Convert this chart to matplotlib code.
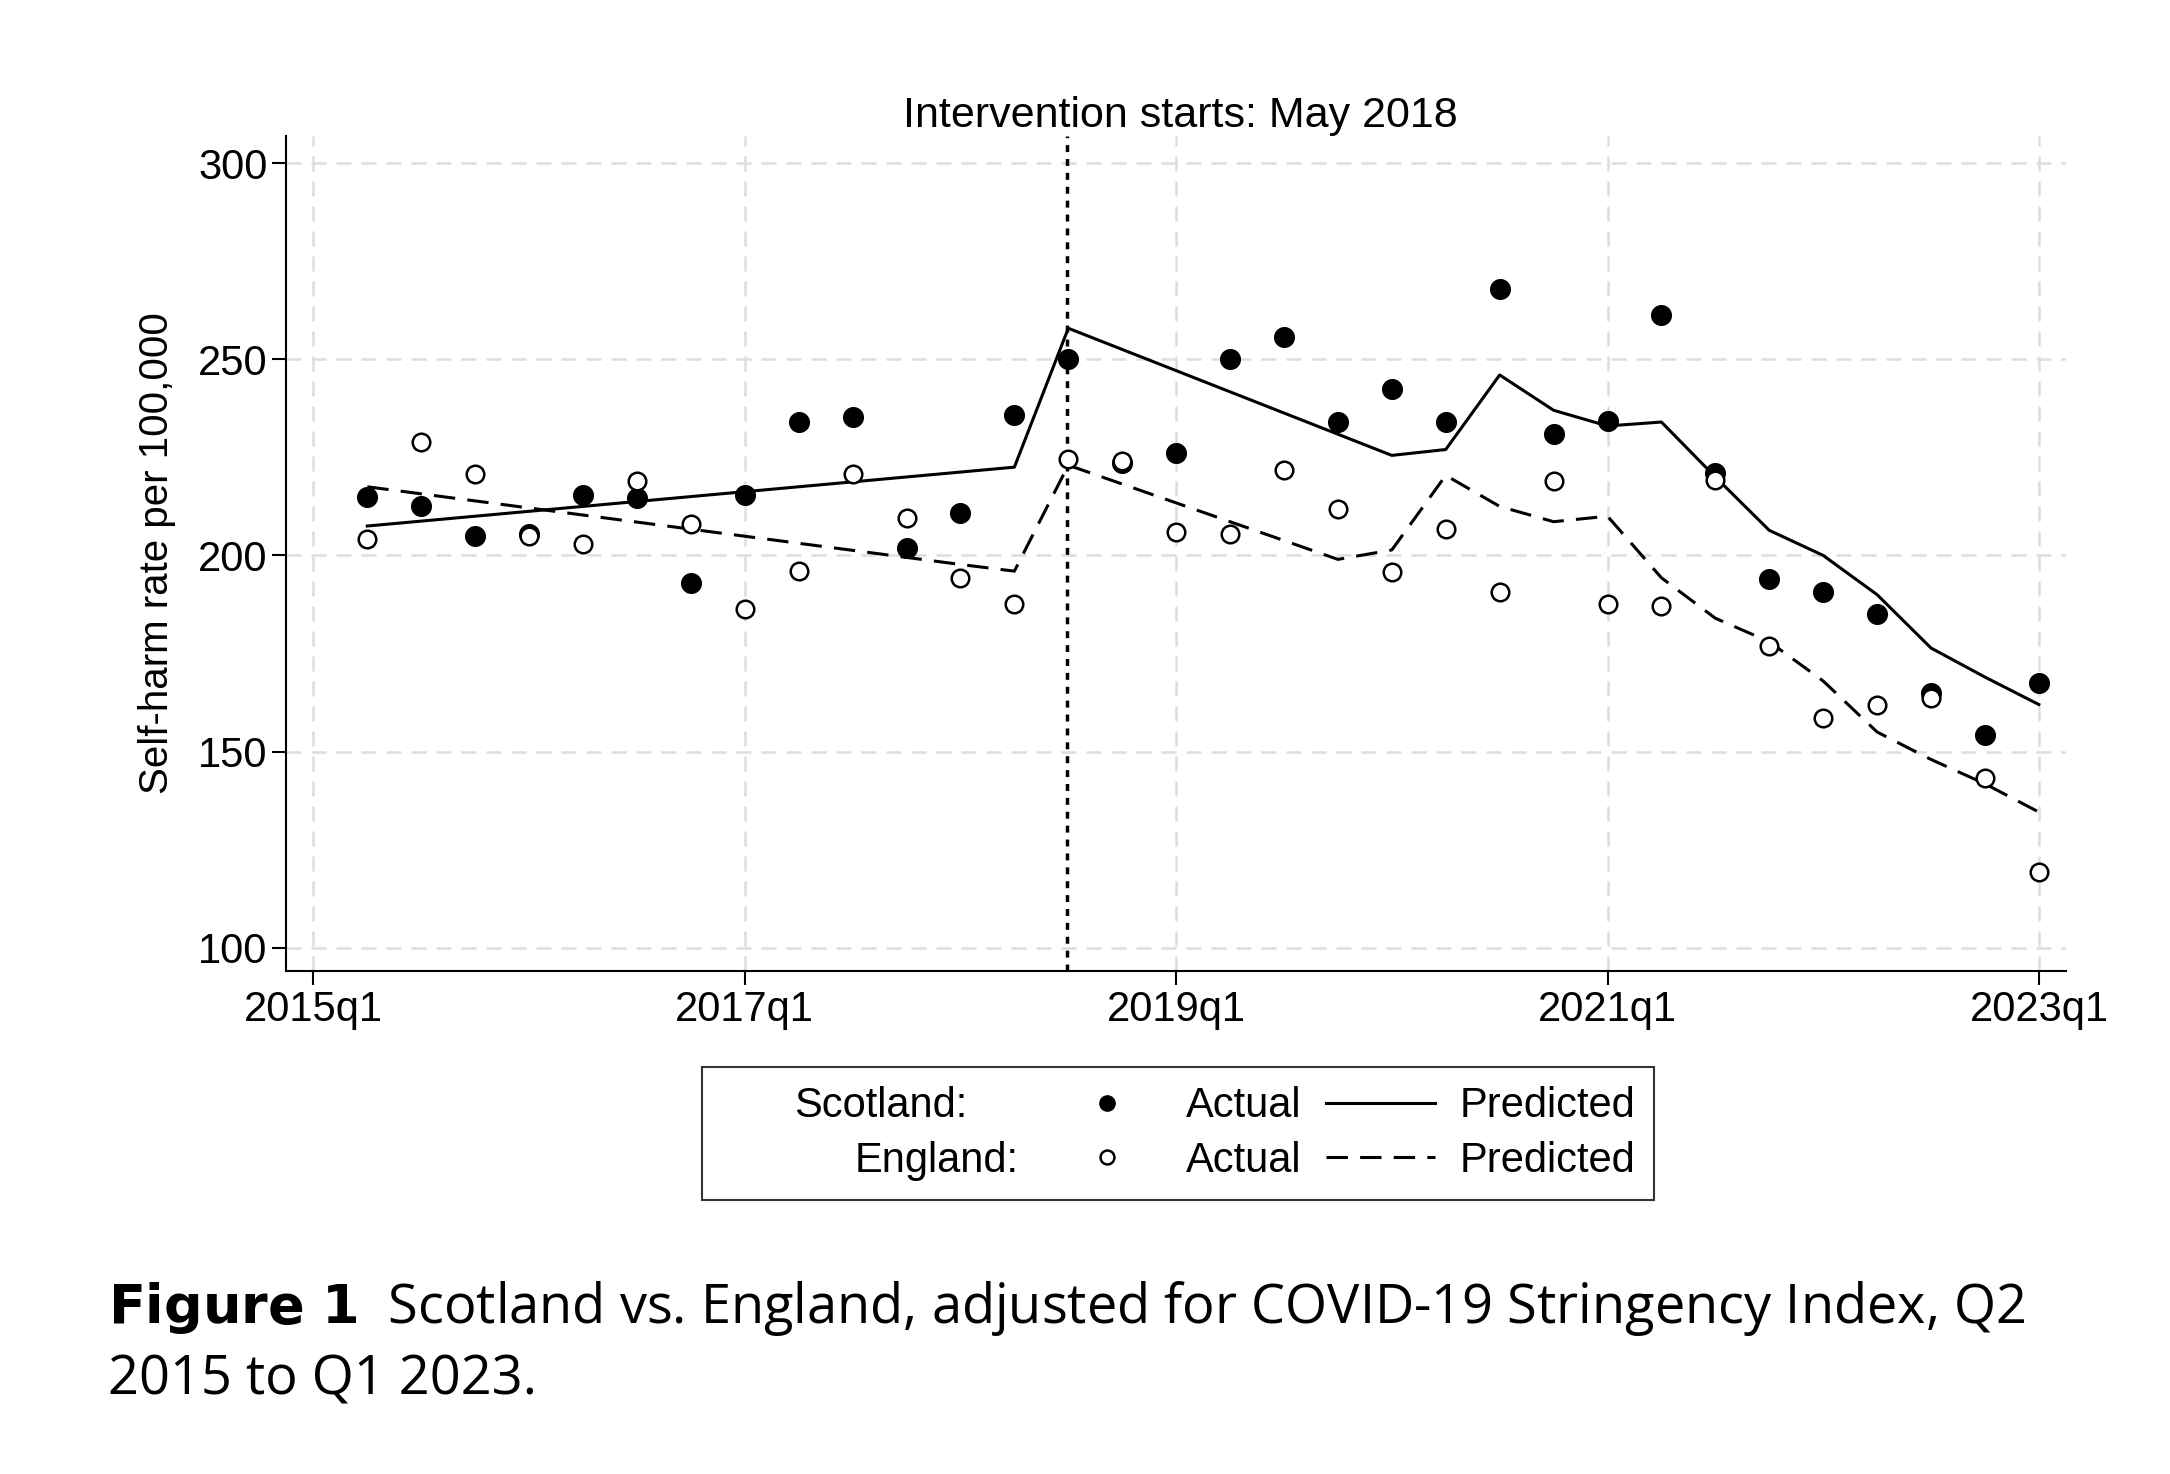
import matplotlib
matplotlib.use("Agg")
import matplotlib.pyplot as plt
from matplotlib.lines import Line2D

# quarter index: 0 = 2015q1
quarters = list(range(1, 33))
scot_actual = [215, 212.5, 205, 205.4, 215.4, 214.6, 193, 215.4, 234, 235.4, 202, 210.7,
               235.7, 250, 223.6, 226, 250, 255.7, 234, 242.5, 234, 268, 231, 234.3,
               261.4, 221, 194, 190.7, 185, 165, 154.3, 167.5]
eng_actual = [204.3, 229, 220.7, 205, 203, 219, 208, 186.4, 196, 220.7, 209.6, 194.3,
              187.5, 224.6, 224, 206, 205.4, 221.8, 211.8, 195.7, 206.8, 190.7, 219, 187.5,
              187, 219.3, 177, 158.6, 162, 163.6, 143.2, 119.3]
scot_pred = [207.5, 208.75, 210, 211.25, 212.5, 213.75, 215, 216.25, 217.5, 218.75, 220, 221.25,
             222.5, 257.9, 252.5, 247.1, 241.7, 236.3, 230.9, 225.5, 227, 246, 237, 233,
             234, 220, 206.4, 200, 190, 176.4, 169, 162]
eng_pred = [217.5, 215.7, 213.9, 212.1, 210.3, 208.5, 206.7, 204.9, 203.1, 201.3, 199.5, 197.7,
            196, 223, 218.2, 213.4, 208.6, 203.8, 199, 201.4, 220.4, 212.5, 208.6, 210,
            194.3, 184, 178, 168, 155, 148, 141.8, 134.6]
intervention = 13.97
xticks = [0, 8, 16, 24, 32]
xlabels = ["2015q1", "2017q1", "2019q1", "2021q1", "2023q1"]
yticks = [100, 150, 200, 250, 300]

plt.rcParams["font.family"] = ["Liberation Sans", "DejaVu Sans"]
fig = plt.figure(figsize=(21.7, 14.74), dpi=100)
ax = fig.add_axes([0.132, 0.341, 0.82, 0.567])

ax.plot(quarters, scot_pred, color="black", lw=2.2)
ax.plot(quarters, eng_pred, color="black", lw=2.2, dashes=(7, 4))
ax.scatter(quarters, scot_actual, s=200, color="black", zorder=3)
ax.scatter(quarters, eng_actual, s=160, facecolor="white", edgecolor="black", lw=1.8, zorder=3)
ax.axvline(intervention, color="black", lw=2.5, ls=(0, (2, 2)))

ax.set_xlim(-0.5, 32.5)
ax.set_ylim(94, 307)
ax.set_xticks(xticks)
ax.set_xticklabels(xlabels)
ax.set_yticks(yticks)
ax.tick_params(labelsize=30, length=10, width=1.5)
ax.grid(True, color="#dddddd", ls=(0, (6, 4)), lw=1.8)
for side in ["top", "right"]:
    ax.spines[side].set_visible(False)
ax.spines["left"].set_linewidth(1.5)
ax.spines["bottom"].set_linewidth(1.5)
ax.set_ylabel("Self-harm rate per 100,000", fontsize=29, labelpad=16)
ax.set_title("Intervention starts: May 2018", fontsize=31, x=(intervention + 2.6) / 33, pad=6)

blank = Line2D([], [], color="none")
handles = [blank, blank,
           Line2D([], [], ls="none", marker="o", color="black", ms=11),
           Line2D([], [], ls="none", marker="o", mfc="white", mec="black", ms=10, mew=1.8),
           Line2D([], [], color="black", lw=2.2),
           Line2D([], [], color="black", lw=2.2, dashes=(7, 4))]
labels = ["Scotland:", "England:", "Actual", "Actual", "Predicted", "Predicted"]
leg = fig.legend(handles, labels, ncol=3, loc="center", bbox_to_anchor=(0.543, 0.231),
                 fontsize=30, frameon=True, fancybox=False, edgecolor="black",
                 handlelength=2.6, columnspacing=0.6, handletextpad=0.6, borderpad=0.45,
                 borderaxespad=0, labelspacing=0.35)
leg.get_frame().set_linewidth(1.5)
leg.get_texts()[0].set_x(-60)

fig.text(0.05, 0.045, "$\\bf{Figure\\ 1}$  Scotland vs. England, adjusted for COVID-19 Stringency Index, Q2\n2015 to Q1 2023.",
         fontsize=39, family=["Open Sans", "DejaVu Sans"], va="bottom", linespacing=1.35)

fig.savefig("out.png", dpi=100, facecolor="white")
